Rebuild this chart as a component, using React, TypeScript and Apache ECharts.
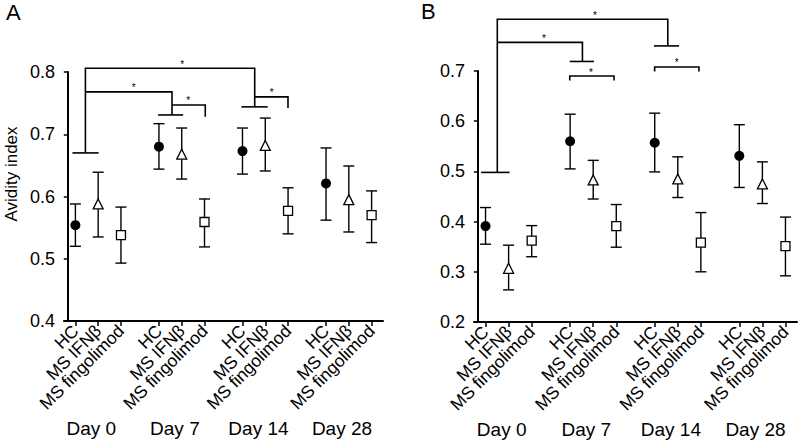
import React, { useEffect, useRef } from "react";
import * as echarts from "echarts";

const days = ["Day 0", "Day 7", "Day 14", "Day 28"];
const groups = ["HC", "MS IFNβ", "MS fingolimod"];

// Panel A
const hcA = [0.554, 0.680, 0.673, 0.621];
const hcALo = [0.520, 0.644, 0.636, 0.562];
const hcAHi = [0.588, 0.717, 0.710, 0.678];
const ifnA = [0.588, 0.668, 0.682, 0.595];
const ifnALo = [0.535, 0.628, 0.641, 0.543];
const ifnAHi = [0.639, 0.710, 0.726, 0.649];
const fingA = [0.538, 0.559, 0.577, 0.570];
const fingALo = [0.493, 0.519, 0.540, 0.526];
const fingAHi = [0.583, 0.596, 0.614, 0.609];

// Panel B
const hcB = [0.391, 0.560, 0.557, 0.531];
const hcBLo = [0.355, 0.505, 0.499, 0.468];
const hcBHi = [0.428, 0.614, 0.616, 0.593];
const ifnB = [0.307, 0.483, 0.485, 0.475];
const ifnBLo = [0.264, 0.445, 0.448, 0.436];
const ifnBHi = [0.353, 0.522, 0.529, 0.519];
const fingB = [0.362, 0.391, 0.358, 0.351];
const fingBLo = [0.330, 0.349, 0.300, 0.292];
const fingBHi = [0.392, 0.434, 0.418, 0.409];

// Significance brackets (x in group-member units from first HC, y in axis values)
const bracketsA = [
  { lines: [[[0.44, 0.670], [0.44, 0.806], [7.87, 0.806], [7.87, 0.744]], [[-0.13, 0.670], [1.02, 0.670]], [[7.29, 0.744], [8.44, 0.744]]], star: [4.69, 0.806] },
  { lines: [[[0.44, 0.768], [4.24, 0.768], [4.24, 0.731]], [[3.63, 0.731], [4.73, 0.731]]], star: [2.56, 0.768] },
  { lines: [[[4.24, 0.747], [5.70, 0.747], [5.70, 0.728]]], star: [4.95, 0.747] },
  { lines: [[[7.87, 0.760], [9.33, 0.760], [9.33, 0.742]]], star: [8.62, 0.760] },
];
const bracketsB = [
  { lines: [[[0.51, 0.498], [0.51, 0.803], [7.90, 0.803], [7.90, 0.750]], [[-0.19, 0.498], [1.04, 0.498]], [[7.30, 0.750], [8.39, 0.750]]], star: [4.74, 0.803] },
  { lines: [[[0.51, 0.757], [4.20, 0.757], [4.20, 0.719]], [[3.65, 0.719], [4.70, 0.719]]], star: [2.53, 0.757] },
  { lines: [[[3.65, 0.681], [3.65, 0.690], [5.57, 0.690], [5.57, 0.681]]], star: [4.57, 0.690] },
  { lines: [[[7.33, 0.699], [7.33, 0.708], [9.25, 0.708], [9.25, 0.699]]], star: [8.29, 0.708] },
];

// Fine category grid: 3 sub-slots per member, 11 per day group, one padding slot each side
const SUB = 3;
const GROUP_SLOTS = 11;
const N_CATS = 42;
const catIndex = (d: number, i: number) => 1 + GROUP_SLOTS * d + SUB * i;
const unitToCat = (u: number) => 1 + SUB * u;
const FONT = "'Liberation Sans', Arial, sans-serif";

const catKeys: string[] = [];
const catLabels: string[] = [];
for (let k = 0; k < N_CATS; k++) { catKeys.push("c" + k); catLabels.push(""); }
days.forEach((_, d) => groups.forEach((g, i) => { catLabels[catIndex(d, i)] = g; }));
const dayValues = days.map((_, d) => catIndex(d, 0) + 2.1);

const findLabel = (vals: number[], labels: string[], v: number) => {
  for (let k = 0; k < vals.length; k++) if (Math.abs(vals[k] - v) < 1e-6) return labels[k];
  return "";
};

function buildPanel(xIdx: number, yIdx: number, means: number[][], lo: number[][], hi: number[][], brackets: any[]) {
  const symbols = [
    { symbol: "circle", size: 10, color: "#000", border: 0 },
    { symbol: "triangle", size: 10, color: "#fff", border: 1.3 },
    { symbol: "rect", size: 9, color: "#fff", border: 1.3 },
  ];
  const series: any[] = [];
  means.forEach((m, gi) => {
    series.push({
      type: "custom",
      xAxisIndex: xIdx,
      yAxisIndex: yIdx,
      clip: false,
      z: 2,
      encode: { x: 0, y: [1, 2] },
      data: m.map((_, d) => [catIndex(d, gi), lo[gi][d], hi[gi][d]]),
      renderItem: (params: any, api: any) => {
        const x = api.value(0);
        const p1 = api.coord([x, api.value(2)]);
        const p2 = api.coord([x, api.value(1)]);
        const hw = 5.5;
        const st = { stroke: "#000", lineWidth: 1.4 };
        return {
          type: "group",
          children: [
            { type: "line", shape: { x1: p1[0], y1: p1[1], x2: p2[0], y2: p2[1] }, style: st },
            { type: "line", shape: { x1: p1[0] - hw, y1: p1[1], x2: p1[0] + hw, y2: p1[1] }, style: st },
            { type: "line", shape: { x1: p2[0] - hw, y1: p2[1], x2: p2[0] + hw, y2: p2[1] }, style: st },
          ],
        };
      },
    });
    const s = symbols[gi];
    series.push({
      type: "scatter",
      xAxisIndex: xIdx,
      yAxisIndex: yIdx,
      z: 5,
      symbol: s.symbol,
      symbolSize: s.size,
      itemStyle: { color: s.color, borderColor: "#000", borderWidth: s.border, opacity: 1 },
      data: m.map((v, d) => [catIndex(d, gi), v]),
    });
  });
  series.push({
    type: "custom",
    xAxisIndex: xIdx,
    yAxisIndex: yIdx,
    clip: false,
    z: 3,
    data: brackets.map((b) => [unitToCat(b.star[0]), b.star[1]]),
    renderItem: (params: any, api: any) => {
      const b = brackets[params.dataIndex];
      const children: any[] = b.lines.map((ln: number[][]) => ({
        type: "polyline",
        shape: { points: ln.map((p) => api.coord([unitToCat(p[0]), p[1]])) },
        style: { stroke: "#000", lineWidth: 1.6, fill: null },
      }));
      const sp = api.coord([unitToCat(b.star[0]), b.star[1]]);
      children.push({
        type: "text",
        x: sp[0],
        y: sp[1] + 1,
        style: { text: "*", fill: "#000", font: `10px ${FONT}`, align: "center", verticalAlign: "bottom" },
      });
      return { type: "group", children };
    },
  });
  return series;
}

function xAxes(grid: number) {
  return [
    {
      type: "category",
      gridIndex: grid,
      data: catKeys,
      boundaryGap: true,
      position: "bottom",
      splitLine: { show: false },
      axisLine: { show: true, lineStyle: { color: "#000", width: 2 } },
      axisTick: {
        show: true,
        alignWithLabel: true,
        interval: (index: number) => catLabels[index] !== "",
        length: 5,
        lineStyle: { color: "#000", width: 1.5 },
      },
      axisLabel: {
        show: true,
        interval: 0,
        rotate: 45,
        margin: 7,
        color: "#000",
        fontSize: 17.5,
        fontFamily: FONT,
        formatter: (_: string, index: number) => catLabels[index],
      },
    },
    {
      type: "value",
      gridIndex: grid,
      min: -0.5,
      max: N_CATS - 0.5,
      position: "bottom",
      offset: 90,
      splitLine: { show: false },
      axisLine: { show: false },
      axisTick: { show: false },
      axisLabel: {
        show: true,
        customValues: dayValues,
        margin: 8,
        color: "#000",
        fontSize: 19,
        fontFamily: FONT,
        formatter: (v: number) => findLabel(dayValues, days, v),
      },
    },
  ];
}

function yAxis(grid: number, min: number, max: number) {
  return {
    type: "value",
    gridIndex: grid,
    min,
    max,
    interval: 0.1,
    splitLine: { show: false },
    axisLine: { show: true, lineStyle: { color: "#000", width: 2 } },
    axisTick: { show: true, length: 4, lineStyle: { color: "#000", width: 1.5 } },
    axisLabel: { color: "#000", fontSize: 18, fontFamily: FONT, margin: 9, formatter: (v: number) => v.toFixed(1) },
  };
}

export default function App() {
  const ref = useRef<HTMLDivElement>(null);
  useEffect(() => {
    if (!ref.current) return;
    const chart = echarts.init(ref.current, undefined, { renderer: "svg" });
    const option: any = {
      animation: false,
      backgroundColor: "#fff",
      grid: [
        { left: 64, top: 72, width: 319, height: 249 },
        { left: 474, top: 71, width: 323, height: 251 },
      ],
      xAxis: [...xAxes(0), ...xAxes(1)],
      yAxis: [yAxis(0, 0.4, 0.8), yAxis(1, 0.2, 0.7)],
      series: [
        ...buildPanel(1, 0, [hcA, ifnA, fingA], [hcALo, ifnALo, fingALo], [hcAHi, ifnAHi, fingAHi], bracketsA),
        ...buildPanel(3, 1, [hcB, ifnB, fingB], [hcBLo, ifnBLo, fingBLo], [hcBHi, ifnBHi, fingBHi], bracketsB),
      ],
      graphic: [
        { type: "text", left: 6, top: 1, style: { text: "A", fill: "#000", font: `22px ${FONT}` } },
        { type: "text", left: 421, top: 0, style: { text: "B", fill: "#000", font: `22px ${FONT}` } },
        {
          type: "text",
          x: 11,
          y: 174,
          rotation: Math.PI / 2,
          style: { text: "Avidity index", fill: "#000", font: `17px ${FONT}`, align: "center", verticalAlign: "middle" },
        },
      ],
    };
    chart.setOption(option);
    return () => chart.dispose();
  }, []);
  return <div ref={ref} style={{ position: "fixed", left: 0, top: 0, width: 799, height: 441 }} />;
}
